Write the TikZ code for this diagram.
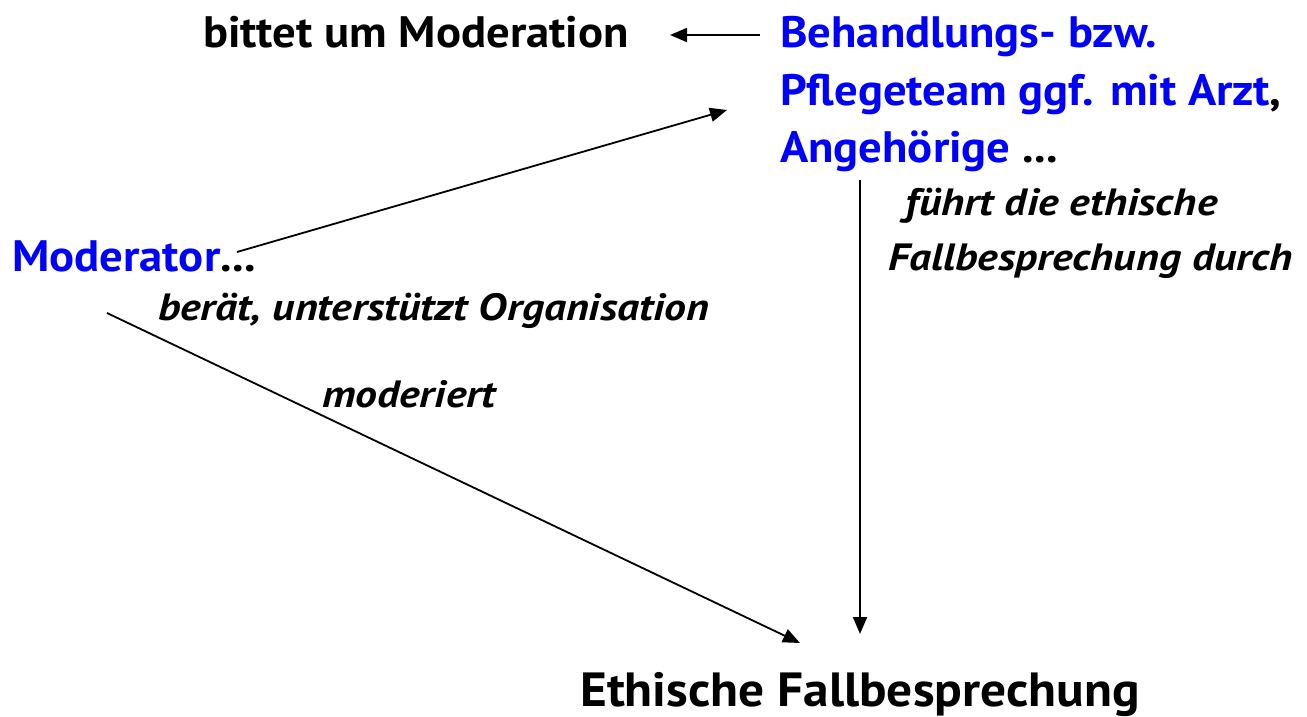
\documentclass[tikz,border=0pt]{standalone}
\usepackage{fontspec}
\setmainfont{PT Sans}
\newfontfamily\bigfont[FakeStretch=1.06]{PT Sans Bold}
\newfontfamily\labfont[FakeStretch=1.15]{PT Sans Bold Italic}
\newfontfamily\efbfont[FakeStretch=1.07]{PT Sans Bold}
\usetikzlibrary{arrows.meta}
\definecolor{tblue}{RGB}{0,0,255}
\begin{document}
\begin{tikzpicture}[x=1pt,y=-1pt,
  big/.style={font=\fontsize{44}{58}\bigfont, inner sep=0pt, anchor=base west},
  lab/.style={font=\fontsize{38}{55}\labfont, inner sep=0pt, anchor=base west},
  conn/.style={line width=1.8pt, -{Triangle[length=17pt,width=14pt]}}]
\useasboundingbox (0,0) rectangle (1307,717);
\node[big] (bitte) at (203,48) {bittet um Moderation};
\node[big, text=tblue] (team1) at (780,48) {Behandlungs- bzw.};
\node[big, text=tblue] (team2) at (780,105) {Pflegeteam ggf. mit Arzt\textcolor{black}{,}};
\node[big, text=tblue] (team3) at (780,162) {Angehörige \textcolor{black}{...}};
\node[big] (mod) at (12,271) {\textcolor{tblue}{Moderator}...};
\node[lab] (berat) at (158,320) {berät, unterstützt Organisation};
\node[lab] (moder) at (322,407) {moderiert};
\node[lab] (fuehrt) at (905,215) {führt die ethische};
\node[lab] (durch) at (888,270) {Fallbesprechung durch};
\node[inner sep=0pt, anchor=base west, font=\fontsize{48}{58}\efbfont] (efb) at (580,706) {Ethische Fallbesprechung};
\coordinate (a1s) at (760,35); \coordinate (a1e) at (670,35);
\coordinate (a2s) at (237,252); \coordinate (a2e) at (727,110);
\coordinate (a3s) at (107,313); \coordinate (a3e) at (800,643);
\coordinate (a4s) at (860,180); \coordinate (a4e) at (860,634);
\draw[conn] (a1s) -- (a1e);
\draw[conn] (a2s) -- (a2e);
\draw[conn] (a3s) -- (a3e);
\draw[conn] (a4s) -- (a4e);
\end{tikzpicture}
\end{document}
